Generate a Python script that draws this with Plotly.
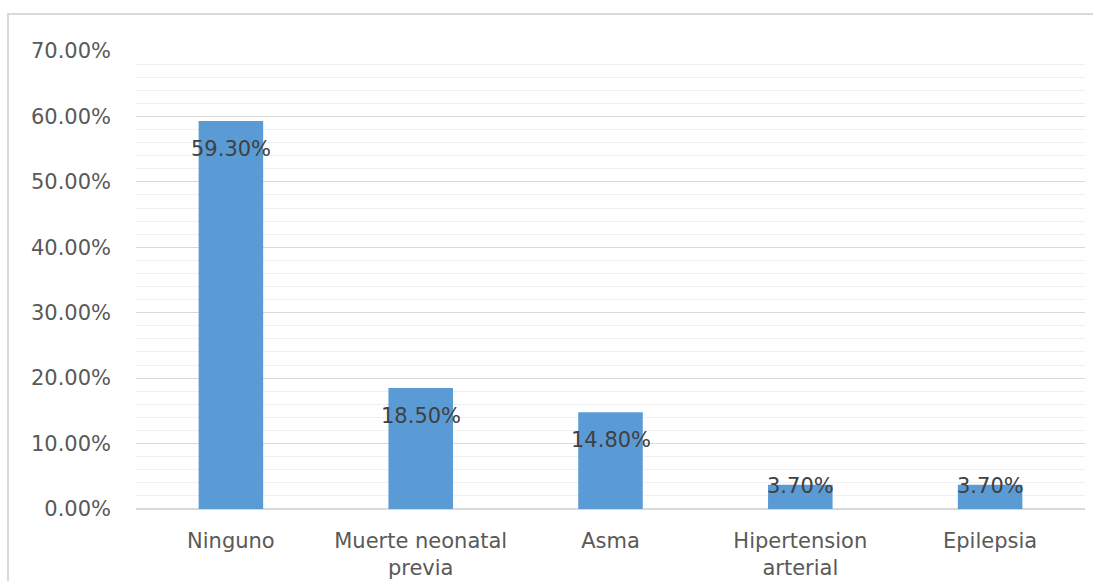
import plotly.graph_objects as go

categories = ["Ninguno", "Muerte neonatal<br>previa", "Asma", "Hipertension<br>arterial", "Epilepsia"]
values = [0.593, 0.185, 0.148, 0.037, 0.037]
labels = ["59.30%", "18.50%", "14.80%", "3.70%", "3.70%"]
y_ticks = [0, 0.1, 0.2, 0.3, 0.4, 0.5, 0.6, 0.7]

W, H = 1093, 581
ML, MR, MT, MB = 136, 8, 51, 72
plot_h = H - MT - MB
plot_w = W - ML - MR
y_max = 0.7
FONT = "DejaVu Sans"

fig = go.Figure()
fig.add_trace(go.Bar(
    x=categories, y=values, width=0.34,
    marker=dict(color="#5b9bd5", line=dict(width=0)),
    hoverinfo="skip",
))

annotations = []
for c, v, t in zip(categories, values, labels):
    bar_px = v / y_max * plot_h
    offset = min(28, bar_px - 23)
    annotations.append(dict(
        x=c, y=v, xref="x", yref="y", text=t, showarrow=False,
        yanchor="middle", yshift=-offset,
        font=dict(family=FONT, size=21, color="#404040"),
    ))

fig.update_layout(
    width=W, height=H,
    margin=dict(l=ML, r=MR, t=MT, b=MB, autoexpand=False),
    paper_bgcolor="white", plot_bgcolor="white",
    showlegend=False,
    bargap=0.66,
    annotations=annotations,
    shapes=[dict(
        type="rect", xref="paper", yref="paper",
        x0=(8 - ML) / plot_w, x1=(1110 - ML) / plot_w,
        y0=-0.3, y1=(H - MB - 14) / plot_h,
        line=dict(color="#d9d9d9", width=2), layer="below",
    )],
    xaxis=dict(
        showgrid=False, showline=False, zeroline=False, automargin=False,
        tickfont=dict(family=FONT, size=21, color="#595959"),
        ticks="", ticklabelstandoff=17,
    ),
    yaxis=dict(
        range=[0, y_max], tickvals=y_ticks, tickformat=".2%", automargin=False,
        showgrid=True, gridcolor="#d9d9d9", gridwidth=1,
        zeroline=True, zerolinecolor="#d9d9d9", zerolinewidth=2,
        showline=False, ticks="",
        tickfont=dict(family=FONT, size=21, color="#595959"),
        ticklabelstandoff=24,
        minor=dict(dtick=0.02, showgrid=True, gridcolor="#f0f0f0", gridwidth=1),
    ),
)

fig.write_html("out.html")
